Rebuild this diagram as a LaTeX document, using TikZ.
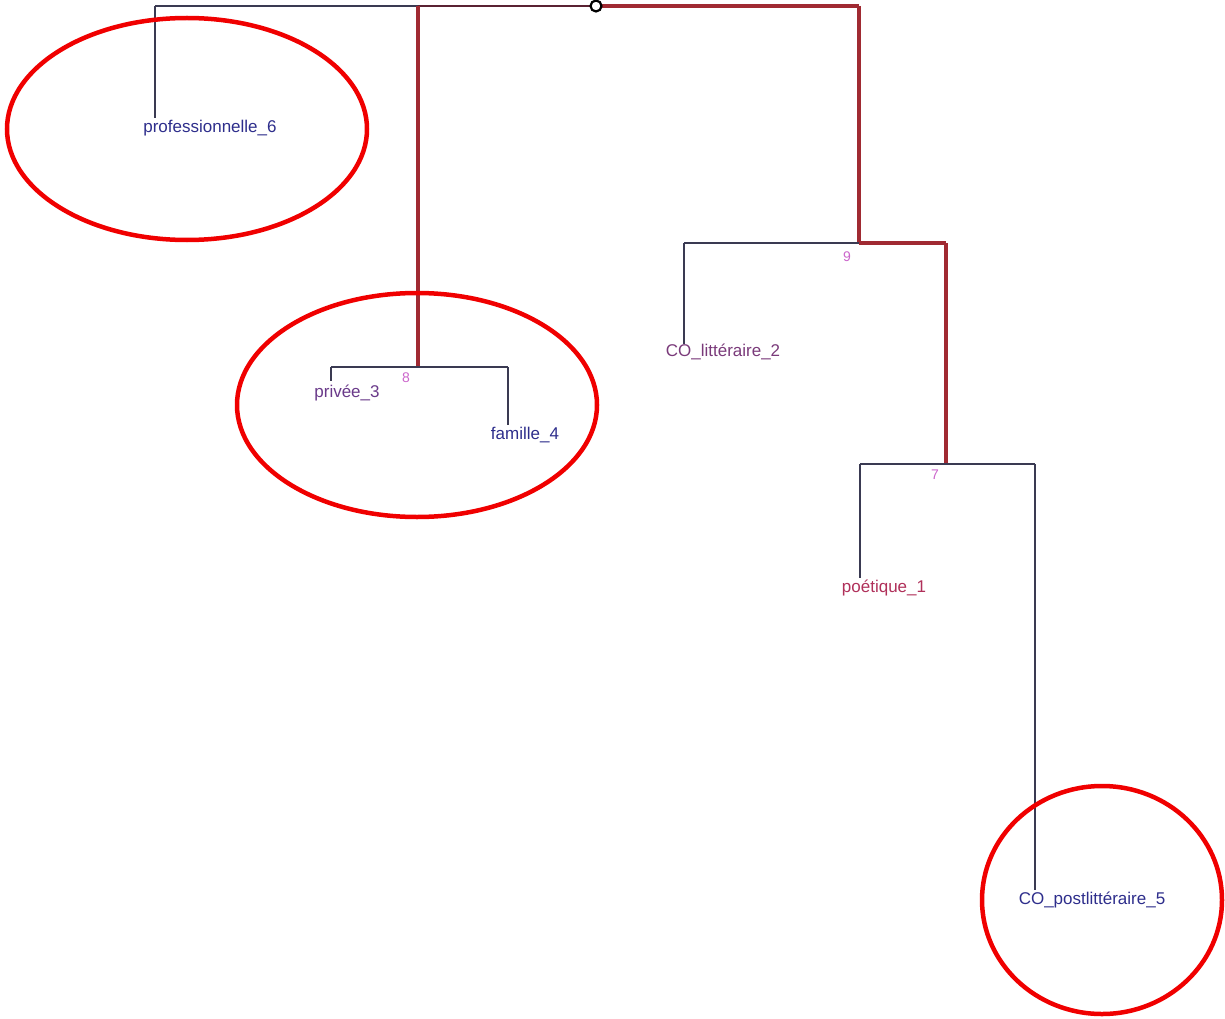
\documentclass[tikz,border=0pt]{standalone}
\usepackage{fontspec}
\setmainfont{Liberation Sans}
\definecolor{darkline}{HTML}{3A3A52}
\definecolor{redline}{HTML}{A02A32}
\definecolor{maroonline}{HTML}{5A2232}
\definecolor{navytext}{HTML}{2E2E8C}
\definecolor{purpletext}{HTML}{6A3A8A}
\definecolor{plumtext}{HTML}{7A3A7A}
\definecolor{redtext}{HTML}{B0305A}
\definecolor{numtext}{HTML}{CC66CC}
\definecolor{ringred}{HTML}{F00000}
\tikzset{
  dline/.style={draw=darkline, line width=2pt},
  rline/.style={draw=redline, line width=3.5pt},
  mline/.style={draw=maroonline, line width=2.8pt},
  leaf/.style={inner sep=0pt, font=\fontsize{17}{19}\selectfont},
  num/.style={inner sep=0pt, text=numtext, font=\fontsize{14}{16}\selectfont},
  ring/.style={draw=ringred, line width=4.5pt}
}
\begin{document}
\begin{tikzpicture}[x=1pt,y=-1pt]
\useasboundingbox (0,0) rectangle (1225,1019);
\fill[white] (0,0) rectangle (1225,1019);
% junction coordinates
\coordinate (root) at (596,6);
\coordinate (t6) at (155,6);
\coordinate (t8) at (418,6);
\coordinate (t9) at (859,6);
\coordinate (n8) at (418,367);
\coordinate (n8l) at (331,367);
\coordinate (n8r) at (508,367);
\coordinate (n9) at (859,243);
\coordinate (n9l) at (684,243);
\coordinate (n9r) at (946,243);
\coordinate (n7) at (946,464);
\coordinate (n7l) at (860,464);
\coordinate (n7r) at (1035,464);
% leaf ends
\coordinate (e6) at (155,118);
\coordinate (e3) at (331,381);
\coordinate (e4) at (508,425);
\coordinate (e2) at (684,344);
\coordinate (e1) at (860,578);
\coordinate (e5) at (1035,890);
% labels
\node[leaf, text=navytext] (l6) at (210,128) {professionnelle\_6};
\node[leaf, text=purpletext] (l3) at (347,393) {privée\_3};
\node[leaf, text=navytext] (l4) at (525,435) {famille\_4};
\node[leaf, text=plumtext] (l2) at (723,352) {CO\_littéraire\_2};
\node[leaf, text=redtext] (l1) at (884,588) {poétique\_1};
\node[leaf, text=navytext] (l5) at (1092,900) {CO\_postlittéraire\_5};
\node[num] (k8) at (406,378) {8};
\node[num] (k9) at (847,257) {9};
\node[num] (k7) at (935,475) {7};
% branches
\draw[dline] (t6) -- (t8);
\draw[dline] (t6) -- (e6);
\draw[mline] (t8) -- (root);
\draw[rline] (root) -- (t9);
\draw[rline] (t8) -- (n8);
\draw[dline] (n8l) -- (n8r);
\draw[dline] (n8l) -- (e3);
\draw[dline] (n8r) -- (e4);
\draw[rline] (t9) -- (n9);
\draw[dline] (n9l) -- (n9);
\draw[rline] (n9) -- (n9r);
\draw[dline] (n9l) -- (e2);
\draw[rline] (n9r) -- (n7);
\draw[dline] (n7l) -- (n7r);
\draw[dline] (n7l) -- (e1);
\draw[dline] (n7r) -- (e5);
\node[circle, draw=black, line width=2.2pt, fill=white, minimum size=11pt, inner sep=0pt] (rc) at (root) {};
% highlight rings
\draw[ring] (187,129) ellipse [x radius=180, y radius=111];
\draw[ring] (417,405) ellipse [x radius=180, y radius=112];
\draw[ring] (1102,900) ellipse [x radius=120, y radius=114];
\end{tikzpicture}
\end{document}
